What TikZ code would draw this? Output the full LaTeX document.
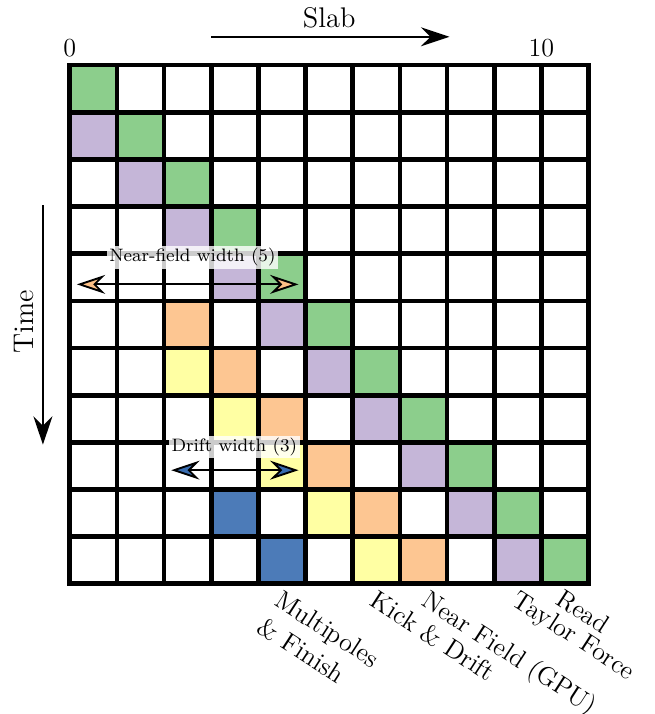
\documentclass[tikz,border=0pt]{standalone}
\usetikzlibrary{arrows.meta}
\definecolor{accG}{HTML}{7FC97F}
\definecolor{accP}{HTML}{BEAED4}
\definecolor{accO}{HTML}{FDC086}
\definecolor{accY}{HTML}{FFFF99}
\definecolor{accB}{HTML}{386CB0}
\tikzset{
  cellG/.style={fill=accG!90!white},
  cellP/.style={fill=accP!90!white},
  cellO/.style={fill=accO!90!white},
  cellY/.style={fill=accY!90!white},
  cellB/.style={fill=accB!90!white},
  gridline/.style={line width=2pt, line cap=rect},
  axisarrow/.style={line width=0.8pt, -{Stealth[length=12pt,width=8pt,inset=4pt]}},
  widtharrow/.style={line width=0.8pt, {Stealth[length=12pt,width=8pt,inset=4pt,fill=#1]}-{Stealth[length=12pt,width=8pt,inset=4pt,fill=#1]}},
  widthlabel/.style={fill=white, fill opacity=0.8, text opacity=1, inner sep=1pt, font=\fontsize{7.6}{9}\selectfont},
  phaselabel/.style={rotate=-33, anchor=north west, inner sep=0pt, align=left, font=\fontsize{11}{13.6}\selectfont},
  numlabel/.style={font=\fontsize{11}{13.6}\selectfont},
}
\begin{document}
\begin{tikzpicture}[x=0.7cm,y=0.7cm]
\useasboundingbox (-1.48,1.38) rectangle (12.39,-13.76);
% coloured cells
\foreach \r in {0,...,10} \fill[cellG] (\r,-\r) rectangle ++(1,-1);
\foreach \r in {1,...,10} \fill[cellP] (\r-1,-\r) rectangle ++(1,-1);
\foreach \r in {5,...,10} \fill[cellO] (\r-3,-\r) rectangle ++(1,-1);
\foreach \r in {6,...,10} \fill[cellY] (\r-4,-\r) rectangle ++(1,-1);
\foreach \r in {9,10} \fill[cellB] (\r-6,-\r) rectangle ++(1,-1);
% grid
\foreach \i in {0,...,11} {
  \draw[gridline] (\i,0) -- (\i,-11);
  \draw[gridline] (0,-\i) -- (11,-\i);
}
% axes
\node[numlabel] (zero) at (0,0.37) {0};
\node[numlabel] (ten) at (10,0.37) {10};
\coordinate (slabA) at (3,0.6);
\coordinate (slabB) at (8.05,0.6);
\draw[axisarrow] (slabA) -- (slabB);
\node[font=\large] (slab) at (5.5,1.0) {Slab};
\coordinate (timeA) at (-0.57,-2.97);
\coordinate (timeB) at (-0.57,-8.05);
\draw[axisarrow] (timeA) -- (timeB);
\node[font=\large, rotate=90] (time) at (-0.97,-5.45) {Time};
% width arrows
\coordinate (nfL) at (0.15,-4.65);
\coordinate (nfR) at (4.85,-4.65);
\draw[widtharrow=accO] (nfL) -- (nfR);
\node[widthlabel] (nflab) at (2.6,-4.08) {Near-field width (5)};
\coordinate (drL) at (2.15,-8.59);
\coordinate (drR) at (4.85,-8.59);
\draw[widtharrow=accB] (drL) -- (drR);
\node[widthlabel] (drlab) at (3.49,-8.1) {Drift width (3)};
% phase labels
\node[phaselabel] (mp) at (4.52,-11.1) {Multipoles\\\& Finish};
\node[phaselabel] (kd) at (6.55,-11.1) {Kick \& Drift};
\node[phaselabel] (nf) at (7.65,-11.08) {Near Field (GPU)};
\node[phaselabel] (tf) at (9.56,-11.1) {Taylor Force};
\node[phaselabel] (rd) at (10.48,-11.08) {Read};
\end{tikzpicture}
\end{document}
